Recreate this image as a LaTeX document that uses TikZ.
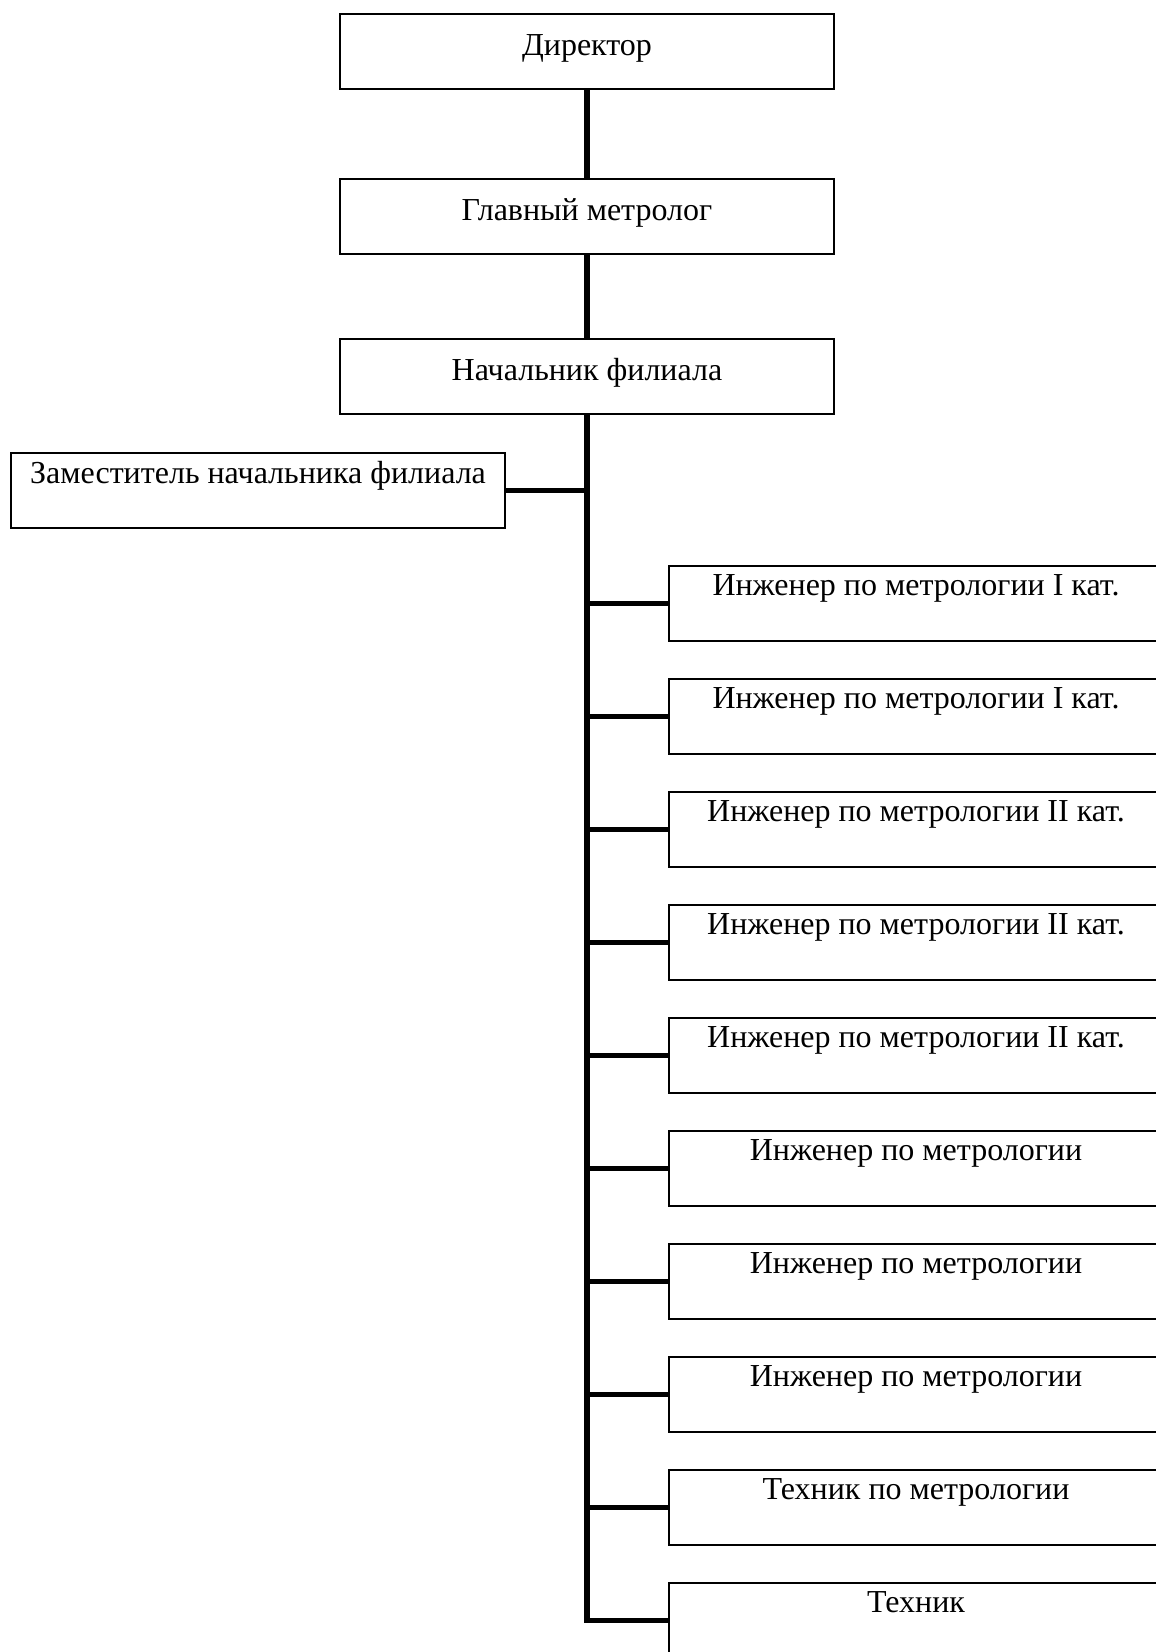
\documentclass[tikz,border=0pt]{standalone}
\usepackage{fontspec}
\setmainfont{Liberation Serif}
\begin{document}
\begin{tikzpicture}[x=1pt,y=-1pt,
  box/.style={draw=black, line width=2pt, rectangle, minimum width=494pt, minimum height=75pt, inner sep=0pt, anchor=north west},
  lbl/.style={inner sep=0pt, anchor=base, font=\fontsize{32}{38}\selectfont},
  conn/.style={line width=5.5pt, line join=miter, line cap=butt}]
\useasboundingbox (0,0) rectangle (1156,1652);
\clip (0,0) rectangle (1156,1652);
\fill[white] (0,0) rectangle (1156,1652);
% top chain
\node[box] (dir) at (339,13) {};
\node[lbl] (dirt) at ([yshift=-42pt]dir.north) {Директор};
\node[box] (glav) at (339,178) {};
\node[lbl] (glavt) at ([yshift=-42pt]glav.north) {Главный метролог};
\node[box] (nach) at (339,338) {};
\node[lbl] (nacht) at ([yshift=-42pt]nach.north) {Начальник филиала};
\node[box] (zam) at (10,452) {};
\node[lbl] (zamt) at ([yshift=-31pt]zam.north) {Заместитель начальника филиала};
% right column
\foreach \i/\t in {1/{Инженер по метрологии I кат.},
                   2/{Инженер по метрологии I кат.},
                   3/{Инженер по метрологии II кат.},
                   4/{Инженер по метрологии II кат.},
                   5/{Инженер по метрологии II кат.},
                   6/{Инженер по метрологии},
                   7/{Инженер по метрологии},
                   8/{Инженер по метрологии},
                   9/{Техник по метрологии},
                   10/{Техник}}{
  \node[box] (r\i) at (668,{565+113*(\i-1)}) {};
  \node[lbl] (r\i t) at ([yshift=-30pt]r\i.north) {\t};
}
% connectors
\draw[conn] (dir.south) -- (glav.north);
\draw[conn] (glav.south) -- (nach.north);
\draw[conn] (zam.east) -- (zam.east -| nach.south);
\draw[conn] (nach.south) -- (nach.south |- r10.west) -- (r10.west);
\foreach \i in {1,...,9}{
  \draw[conn] (nach.south |- r\i.west) -- (r\i.west);
}
\end{tikzpicture}
\end{document}
